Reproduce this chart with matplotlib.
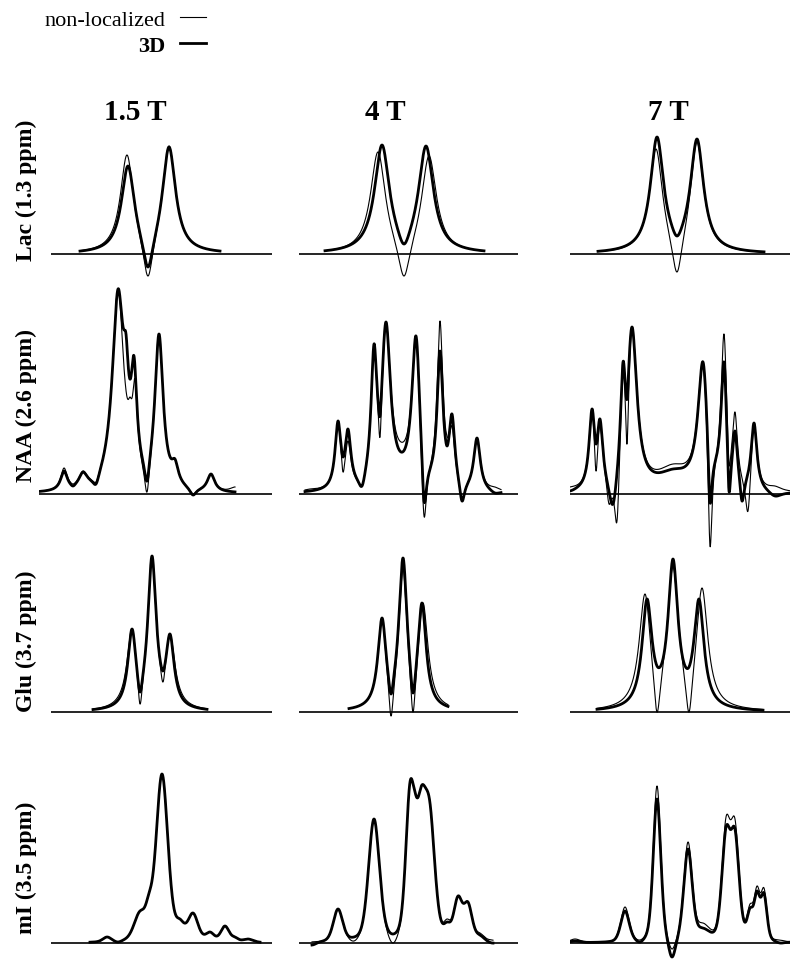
# -*- coding: utf-8 -*-
"""
Espectros simulados de Lac, NAA, Glu y mI a 1.5 T, 4 T y 7 T:
adquisicion no localizada (linea fina) frente a la secuencia 3D (linea gruesa).
"""

import numpy as np
import matplotlib.pyplot as plt
from matplotlib.lines import Line2D

plt.rcParams['font.family'] = ['Liberation Serif', 'DejaVu Serif']

campos = ['1.5 T', '4 T', '7 T']
metabolitos = ['Lac (1.3 ppm)', 'NAA (2.6 ppm)', 'Glu (3.7 ppm)', 'mI (3.5 ppm)']
leyenda = ['non-localized', '3D']

# ventana de cada panel (eje horizontal) y tramo que ocupa el espectro
ventana = [[(51, 272), (299, 518), (570, 790)],
           [(39, 272), (299, 518), (570, 790)],
           [(51, 272), (299, 518), (570, 790)],
           [(51, 272), (299, 518), (570, 790)]]
tramo = [[(80, 220), (325, 484), (598, 764)],
         [(39, 235), (305, 501), (567, 790)],
         [(93, 207), (349, 448), (597, 763)],
         [(90, 260), (312, 493), (570, 790)]]
# fraccion lorentziana de la forma de linea de cada metabolito
fraccion_lorentz = [1.0, 1.0, 1.0, 0.3]

# picos: (posicion, altura, anchura)
lac_15_nl = [(127, 99, 8), (148, -22, 6), (169, 108, 8)]
lac_15_3d = [(128, 88, 8), (148, -13, 6), (169, 107, 8)]
lac_4_nl = [(378, 102, 9), (404, -22, 7), (429, 98, 9)]
lac_4_3d = [(382, 109, 9), (404, 10, 7), (426, 108, 9)]
lac_7_nl = [(656, 105, 8), (677, -18, 6), (697, 112, 8)]
lac_7_3d = [(657, 117, 8), (677, 18, 6), (697, 115, 8)]

naa_15_nl = [(64, 26, 4), (73, 10, 3), (83, 23, 5), (96, 12, 4), (118, 205, 7),
             (130, 97, 2.5), (135, 115, 3), (147, 2, 3), (159, 160, 5),
             (175, 35, 4), (193, 0, 4), (211, 20, 4.5), (235, 7, 6)]
naa_15_3d = [(64, 23, 4), (73, 8, 3), (83, 22, 5), (96, 10, 4), (118, 205, 7),
             (126, 160, 3), (134, 138, 3.5), (147, 13, 3), (159, 160, 5),
             (175, 35, 4), (193, -1, 4), (211, 20, 4.5)]
naa_4_nl = [(310, 5, 10), (338, 73, 3.5), (343, 22, 2), (348, 53, 3.5), (362, 8, 4),
            (374, 148, 3.5), (380, 57, 2), (386, 172, 5.5), (401, 52, 14), (416, 155, 5),
            (424, -22, 3), (440, 173, 3.5), (447, 58, 2), (452, 68, 3.5), (462, -7, 3),
            (477, 56, 4), (495, 7, 6)]
naa_4_3d = [(310, 3, 10), (338, 73, 3.5), (343, 37, 2), (348, 65, 3.5), (362, 8, 4),
            (374, 150, 3.5), (380, 78, 2), (386, 172, 5.5), (401, 42, 14), (416, 158, 5),
            (424, -7, 3), (440, 143, 3.5), (447, 48, 2), (452, 80, 3.5), (462, -7, 3),
            (477, 56, 4), (495, 1, 6)]
naa_7_nl = [(570, 7, 8), (592, 85, 3.5), (596, 23, 2), (600, 70, 3.5), (609, -10, 3),
            (617, -27, 3), (623, 132, 3), (627, 50, 2), (632, 167, 6), (673, 30, 20),
            (703, 132, 6), (710, -52, 2.5), (724, 160, 3.5), (729, 30, 2), (735, 82, 3),
            (748, -17, 3), (754, 71, 3.5), (775, 8, 8)]
naa_7_3d = [(570, 3, 8), (592, 85, 3.5), (596, 50, 2), (600, 75, 3.5), (613, -10, 5),
            (623, 132, 3), (627, 95, 2), (632, 167, 6), (673, 25, 20),
            (703, 132, 6), (710, -8, 2.5), (724, 132, 3.5), (729, 3, 2), (735, 63, 3),
            (742, -7, 2.5), (754, 71, 3.5), (775, -2, 8)]

glu_15_nl = [(132, 83, 6), (140, 8, 3), (152, 156, 5), (163, 30, 3), (170, 78, 6)]
glu_15_3d = [(132, 83, 5), (140, 20, 3), (152, 156, 5), (163, 41, 3), (170, 78, 5)]
glu_4_nl = [(382, 94, 5), (391, -4, 3), (403, 143, 5), (413, 0, 3), (423, 109, 6)]
glu_4_3d = [(382, 94, 5), (391, 18, 3), (403, 154, 5), (413, 19, 3), (422, 109, 5)]
glu_7_nl = [(645, 118, 7), (657, 0, 4), (673, 145, 7), (689, 0, 4), (702, 124, 7)]
glu_7_3d = [(647, 113, 6), (657, 46, 4), (673, 153, 6), (689, 45, 4), (699, 113, 6)]

mi_15_nl = [(107, 6, 5), (118, 1, 4), (140, 32, 7), (149, 50, 4), (162, 169, 7),
            (180, 24, 5), (193, 30, 6), (210, 11, 5), (225, 17, 5), (235, 6, 4),
            (248, 4, 6)]
mi_15_3d = [(107, 6, 5), (118, 1, 4), (140, 32, 7), (149, 50, 4), (162, 169, 7),
            (180, 24, 5), (193, 30, 6), (210, 11, 5), (225, 17, 5), (235, 6, 4),
            (248, 4, 6)]
mi_4_nl = [(338, 34, 5.5), (354, 2, 5), (374, 124, 6.5), (393, 0, 5), (410, 161, 5),
           (415, 151, 3), (421, 156, 6), (430, 140, 6), (447, 24, 4), (458, 47, 5),
           (468, 41, 5), (480, 10, 5), (492, 3, 5)]
mi_4_3d = [(312, -2, 5), (338, 34, 5.5), (354, 6, 5), (374, 124, 6.5), (393, 9, 5),
           (410, 161, 5), (415, 151, 3), (421, 156, 6), (430, 140, 6), (447, 21, 4),
           (458, 47, 5), (468, 41, 5), (480, 8, 5), (492, 0, 5)]
mi_7_nl = [(575, 4, 6), (625, 36, 5), (640, 3, 4), (657, 157, 4.5), (672, -6, 4),
           (688, 101, 5), (703, 20, 8), (726, 126, 5), (735, 124, 5), (750, 39, 3.5),
           (757, 57, 3.5), (764, 55, 3.5), (780, 3, 5)]
mi_7_3d = [(575, 2, 6), (625, 32, 5), (640, 1, 4), (657, 144, 4.5), (672, -14, 4),
           (688, 94, 5), (703, 15, 8), (726, 116, 5), (735, 114, 5), (750, 35, 3.5),
           (757, 52, 3.5), (764, 50, 3.5), (780, 0, 5)]

no_localizado = [[lac_15_nl, lac_4_nl, lac_7_nl],
                 [naa_15_nl, naa_4_nl, naa_7_nl],
                 [glu_15_nl, glu_4_nl, glu_7_nl],
                 [mi_15_nl, mi_4_nl, mi_7_nl]]
secuencia_3d = [[lac_15_3d, lac_4_3d, lac_7_3d],
                [naa_15_3d, naa_4_3d, naa_7_3d],
                [glu_15_3d, glu_4_3d, glu_7_3d],
                [mi_15_3d, mi_4_3d, mi_7_3d]]


def forma_linea(x, c, w, eta):
    # pseudo-Voigt con semi-anchura w
    d2 = (x - c)**2
    return eta * w**2 / (d2 + w**2) + (1 - eta) * np.exp(-np.log(2) * d2 / w**2)


def espectro(picos, x, eta):
    # las amplitudes se ajustan para que la curva pase por las alturas leidas
    c = np.array([p[0] for p in picos], float)
    h = np.array([p[1] for p in picos], float)
    w = np.array([p[2] for p in picos], float)
    M = forma_linea(c[:, None], c[None, :], w[None, :], eta)
    amp = np.linalg.solve(M, h)
    return (amp * forma_linea(x[:, None], c, w, eta)).sum(axis=1)


W, H = 800, 970
fig = plt.figure(figsize=(8, 9.7), dpi=100)

linea_base = [255, 495, 713, 944]   # altura (px) de la linea base de cada fila
ylim = (-60, 220)

for i in range(len(metabolitos)):
    for j in range(len(campos)):
        x0, x1 = ventana[i][j]
        b = linea_base[i]
        ax = fig.add_axes([x0 / W, 1 - (b - ylim[0]) / H,
                           (x1 - x0) / W, (ylim[1] - ylim[0]) / H])
        ax.set_xlim(x0, x1)
        ax.set_ylim(*ylim)
        ax.axis('off')
        ax.patch.set_alpha(0)
        ax.axhline(0, color='black', lw=1.2)
        t0, t1 = tramo[i][j]
        x = np.linspace(t0, t1, 1500)
        eta = fraccion_lorentz[i]
        ax.plot(x, espectro(secuencia_3d[i][j], x, eta), color='black', lw=2.0)
        ax.plot(x, espectro(no_localizado[i][j], x, eta), color='black', lw=0.8)

# titulos de columna y de fila
for j, (campo, xc) in enumerate(zip(campos, [135, 385, 668])):
    fig.text(xc / W, 1 - 113 / H, campo, ha='center', va='center',
             fontsize=21, fontweight='bold')
for i, (nombre, yc) in enumerate(zip(metabolitos, [190, 405, 641, 868])):
    fig.text(26 / W, 1 - yc / H, nombre, ha='center', va='center',
             rotation=90, fontsize=17, fontweight='bold')

manejadores = [Line2D([], [], color='black', lw=0.8),
               Line2D([], [], color='black', lw=2.0)]
leg = fig.legend(manejadores, leyenda, loc='upper right',
                 bbox_to_anchor=(206 / W, 1 - 10 / H), frameon=False,
                 markerfirst=False, fontsize=16, handlelength=1.15,
                 handletextpad=0.7, labelspacing=0.25, borderpad=0,
                 borderaxespad=0)
leg.get_texts()[1].set_fontweight('bold')

plt.savefig('out.png', dpi=100)
